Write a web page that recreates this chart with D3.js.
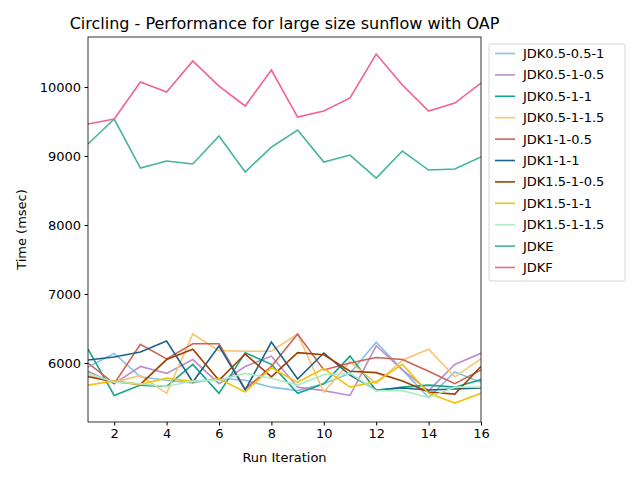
<!DOCTYPE html>
<html><head><meta charset="utf-8">
<script src="https://cdn.jsdelivr.net/npm/d3@7"></script>
<style>body{margin:0;background:#fff;font-family:"DejaVu Sans",sans-serif;}</style>
</head><body><svg id="c" width="640" height="480"></svg>
<script>
// run iterations 1..16
const iterations = d3.range(1, 17);
const seriesNames = ["JDK0.5-0.5-1","JDK0.5-1-0.5","JDK0.5-1-1","JDK0.5-1-1.5","JDK1-1-0.5","JDK1-1-1","JDK1.5-1-0.5","JDK1.5-1-1","JDK1.5-1-1.5","JDKE","JDKF"];
const seriesColors = ["#85c1e9","#bb8fce","#17a589","#f8c471","#cd6155","#1f618d","#a04000","#f1c40f","#abebc6","#45b39d","#f06292"];
const jdk05_05_1 = [5940,6140,5800,5750,5710,5780,5750,5650,5600,5700,5850,6300,5900,5500,5870,5720];
const jdk05_1_05 = [5880,5700,5950,5850,6050,5700,5950,6100,5650,5600,5530,6250,5900,5600,5980,6140];
const jdk05_1_1 = [6200,5530,5680,5660,5980,5560,6150,5980,5560,5700,6100,5600,5650,5680,5650,5760];
const jdk05_1_15 = [5820,5720,5820,5560,6420,6180,6170,6170,6420,5580,6020,5700,6040,6200,5800,6060];
const jdk1_1_05 = [6000,5700,6270,6060,6280,6280,5620,5950,6420,5900,6000,6080,6050,5880,5700,5900];
const jdk1_1_1 = [6043,6087,6159,6319,5725,6246,5609,6304,5768,6145,5826,5609,5638,5609,5623,5638];
const jdk15_1_05 = [5800,5730,5690,6050,6200,5750,6130,5800,6150,6120,5880,5860,5740,5580,5550,5950];
const jdk15_1_1 = [5680,5740,5690,5780,5730,5770,5580,5930,5720,5920,5650,5730,5980,5560,5420,5560];
const jdk15_1_15 = [5850,5720,5700,5660,5740,5750,5850,5780,5680,5830,5850,5600,5600,5500,5650,5650];
const jdkE = [9174,9536,8826,8928,8884,9290,8768,9130,9377,8913,9014,8681,9072,8797,8812,8986];
const jdkF = [9464,9536,10072,9928,10377,10014,9725,10246,9565,9652,9841,10478,10029,9652,9768,10058];
const seriesValues = [jdk05_05_1,jdk05_1_05,jdk05_1_1,jdk05_1_15,jdk1_1_05,jdk1_1_1,jdk15_1_05,jdk15_1_1,jdk15_1_15,jdkE,jdkF];
const xTicks = [2,4,6,8,10,12,14,16];
const yTicks = [6000,7000,8000,9000,10000];

const svg = d3.select("#c");
const L = 88, R = 481, T = 37, B = 422;
const x = d3.scaleLinear().domain([1,16]).range([L,R]);
const y = d3.scaleLinear().domain([5145,10725]).range([B,T]);

const line = d3.line().x((d,i) => x(iterations[i])).y(d => y(d));
const g = svg.append("g");
g.append("clipPath").attr("id","clip").append("rect").attr("x",L).attr("y",T).attr("width",R-L).attr("height",B-T);
seriesValues.forEach((vals, k) => {
  g.append("path").datum(vals).attr("d", line).attr("fill","none")
    .attr("stroke", seriesColors[k]).attr("stroke-width",1.6).attr("clip-path","url(#clip)");
});

svg.append("g").attr("transform",`translate(0,${B})`)
  .call(d3.axisBottom(x).tickValues(xTicks).tickFormat(d3.format("d")).tickSizeOuter(0).tickSize(3.5).tickPadding(3.5))
  .call(a => a.selectAll("text").attr("font-size",13).attr("fill","#000").attr("font-family","DejaVu Sans"));
svg.append("g").attr("transform",`translate(${L},0)`)
  .call(d3.axisLeft(y).tickValues(yTicks).tickFormat(d3.format("d")).tickSizeOuter(0).tickSize(3.5).tickPadding(3.5))
  .call(a => a.selectAll("text").attr("font-size",13).attr("fill","#000").attr("font-family","DejaVu Sans"));
svg.selectAll(".domain").remove();
svg.append("rect").attr("x",L).attr("y",T).attr("width",R-L).attr("height",B-T)
  .attr("fill","none").attr("stroke","#000").attr("stroke-width",0.8);

svg.append("text").attr("x",(L+R)/2).attr("y",29).attr("text-anchor","middle")
  .attr("font-size",16).text("Circling - Performance for large size sunflow with OAP");
svg.append("text").attr("x",(L+R)/2).attr("y",462).attr("text-anchor","middle")
  .attr("font-size",13).text("Run Iteration");
svg.append("text").attr("transform",`translate(26,${(T+B)/2}) rotate(-90)`).attr("text-anchor","middle")
  .attr("font-size",13).text("Time (msec)");

const lg = svg.append("g").attr("transform","translate(489,44)");
lg.append("rect").attr("width",136).attr("height",237).attr("rx",2).attr("fill","#fff")
  .attr("stroke","#ccc").attr("stroke-width",0.8);
seriesNames.forEach((n,k) => {
  const yy = 9.5 + k*21.4;
  lg.append("line").attr("x1",6).attr("x2",26).attr("y1",yy).attr("y2",yy)
    .attr("stroke",seriesColors[k]).attr("stroke-width",1.6);
  lg.append("text").attr("x",34).attr("y",yy+4.5).attr("font-size",13).text(n);
});
</script></body></html>
